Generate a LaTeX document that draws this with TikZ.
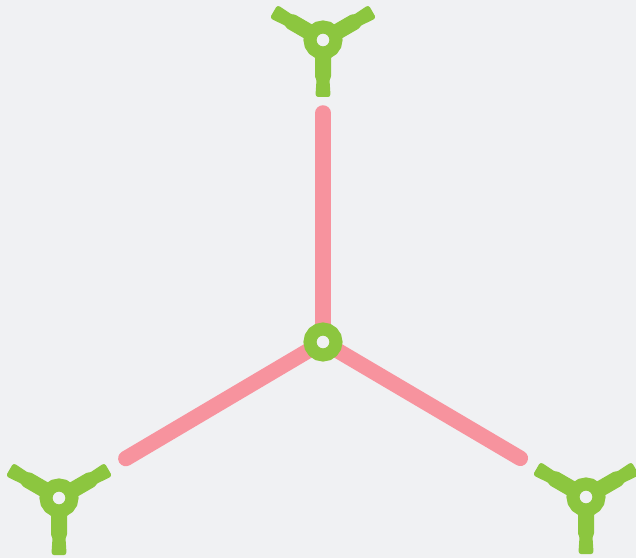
\documentclass[tikz,border=0pt]{standalone}
\usetikzlibrary{calc,backgrounds}
\definecolor{bgc}{HTML}{F0F1F3}
\definecolor{grn}{HTML}{8CC63F}
\definecolor{pnk}{HTML}{F7939E}
\tikzset{
  ringnode/.style={circle, draw=grn, fill=bgc, line width=13pt, minimum size=26pt, inner sep=0pt},
  pinkline/.style={draw=pnk, line width=15.5pt, line cap=round},
  arm/.pic={\fill[grn, rounded corners=1pt] (0,-8) -- (37,-8) -- (40,-6.5) -- (55,-7.5) -- (57,-6) -- (57,6) -- (55,7.5) -- (40,6.5) -- (37,8) -- (0,8) -- cycle;},
  fitting/.pic={\pic[rotate=270]{arm}; \pic[rotate=150]{arm}; \pic[rotate=30]{arm};}
}
\begin{document}
\begin{tikzpicture}[x=1pt,y=1pt]
\useasboundingbox (0,0) rectangle (636,558);
\coordinate (pc) at (323,216);
\coordinate (pt) at (323,518);
\coordinate (pl) at (59,60);
\coordinate (pr) at (586,61);
\begin{pgfonlayer}{background}
\fill[bgc] (0,0) rectangle (636,558);
\draw[pinkline] (pc) -- ($(pc)!229pt!(pt)$) coordinate (et);
\draw[pinkline] (pc) -- ($(pc)!229pt!(pl)$) coordinate (el);
\draw[pinkline] (pc) -- ($(pc)!229pt!(pr)$) coordinate (er);
\end{pgfonlayer}
\pic at (pt) {fitting};
\pic at (pl) {fitting};
\pic at (pr) {fitting};
\node[ringnode] (c) at (pc) {};
\node[ringnode] (t) at (pt) {};
\node[ringnode] (l) at (pl) {};
\node[ringnode] (r) at (pr) {};
\end{tikzpicture}
\end{document}
